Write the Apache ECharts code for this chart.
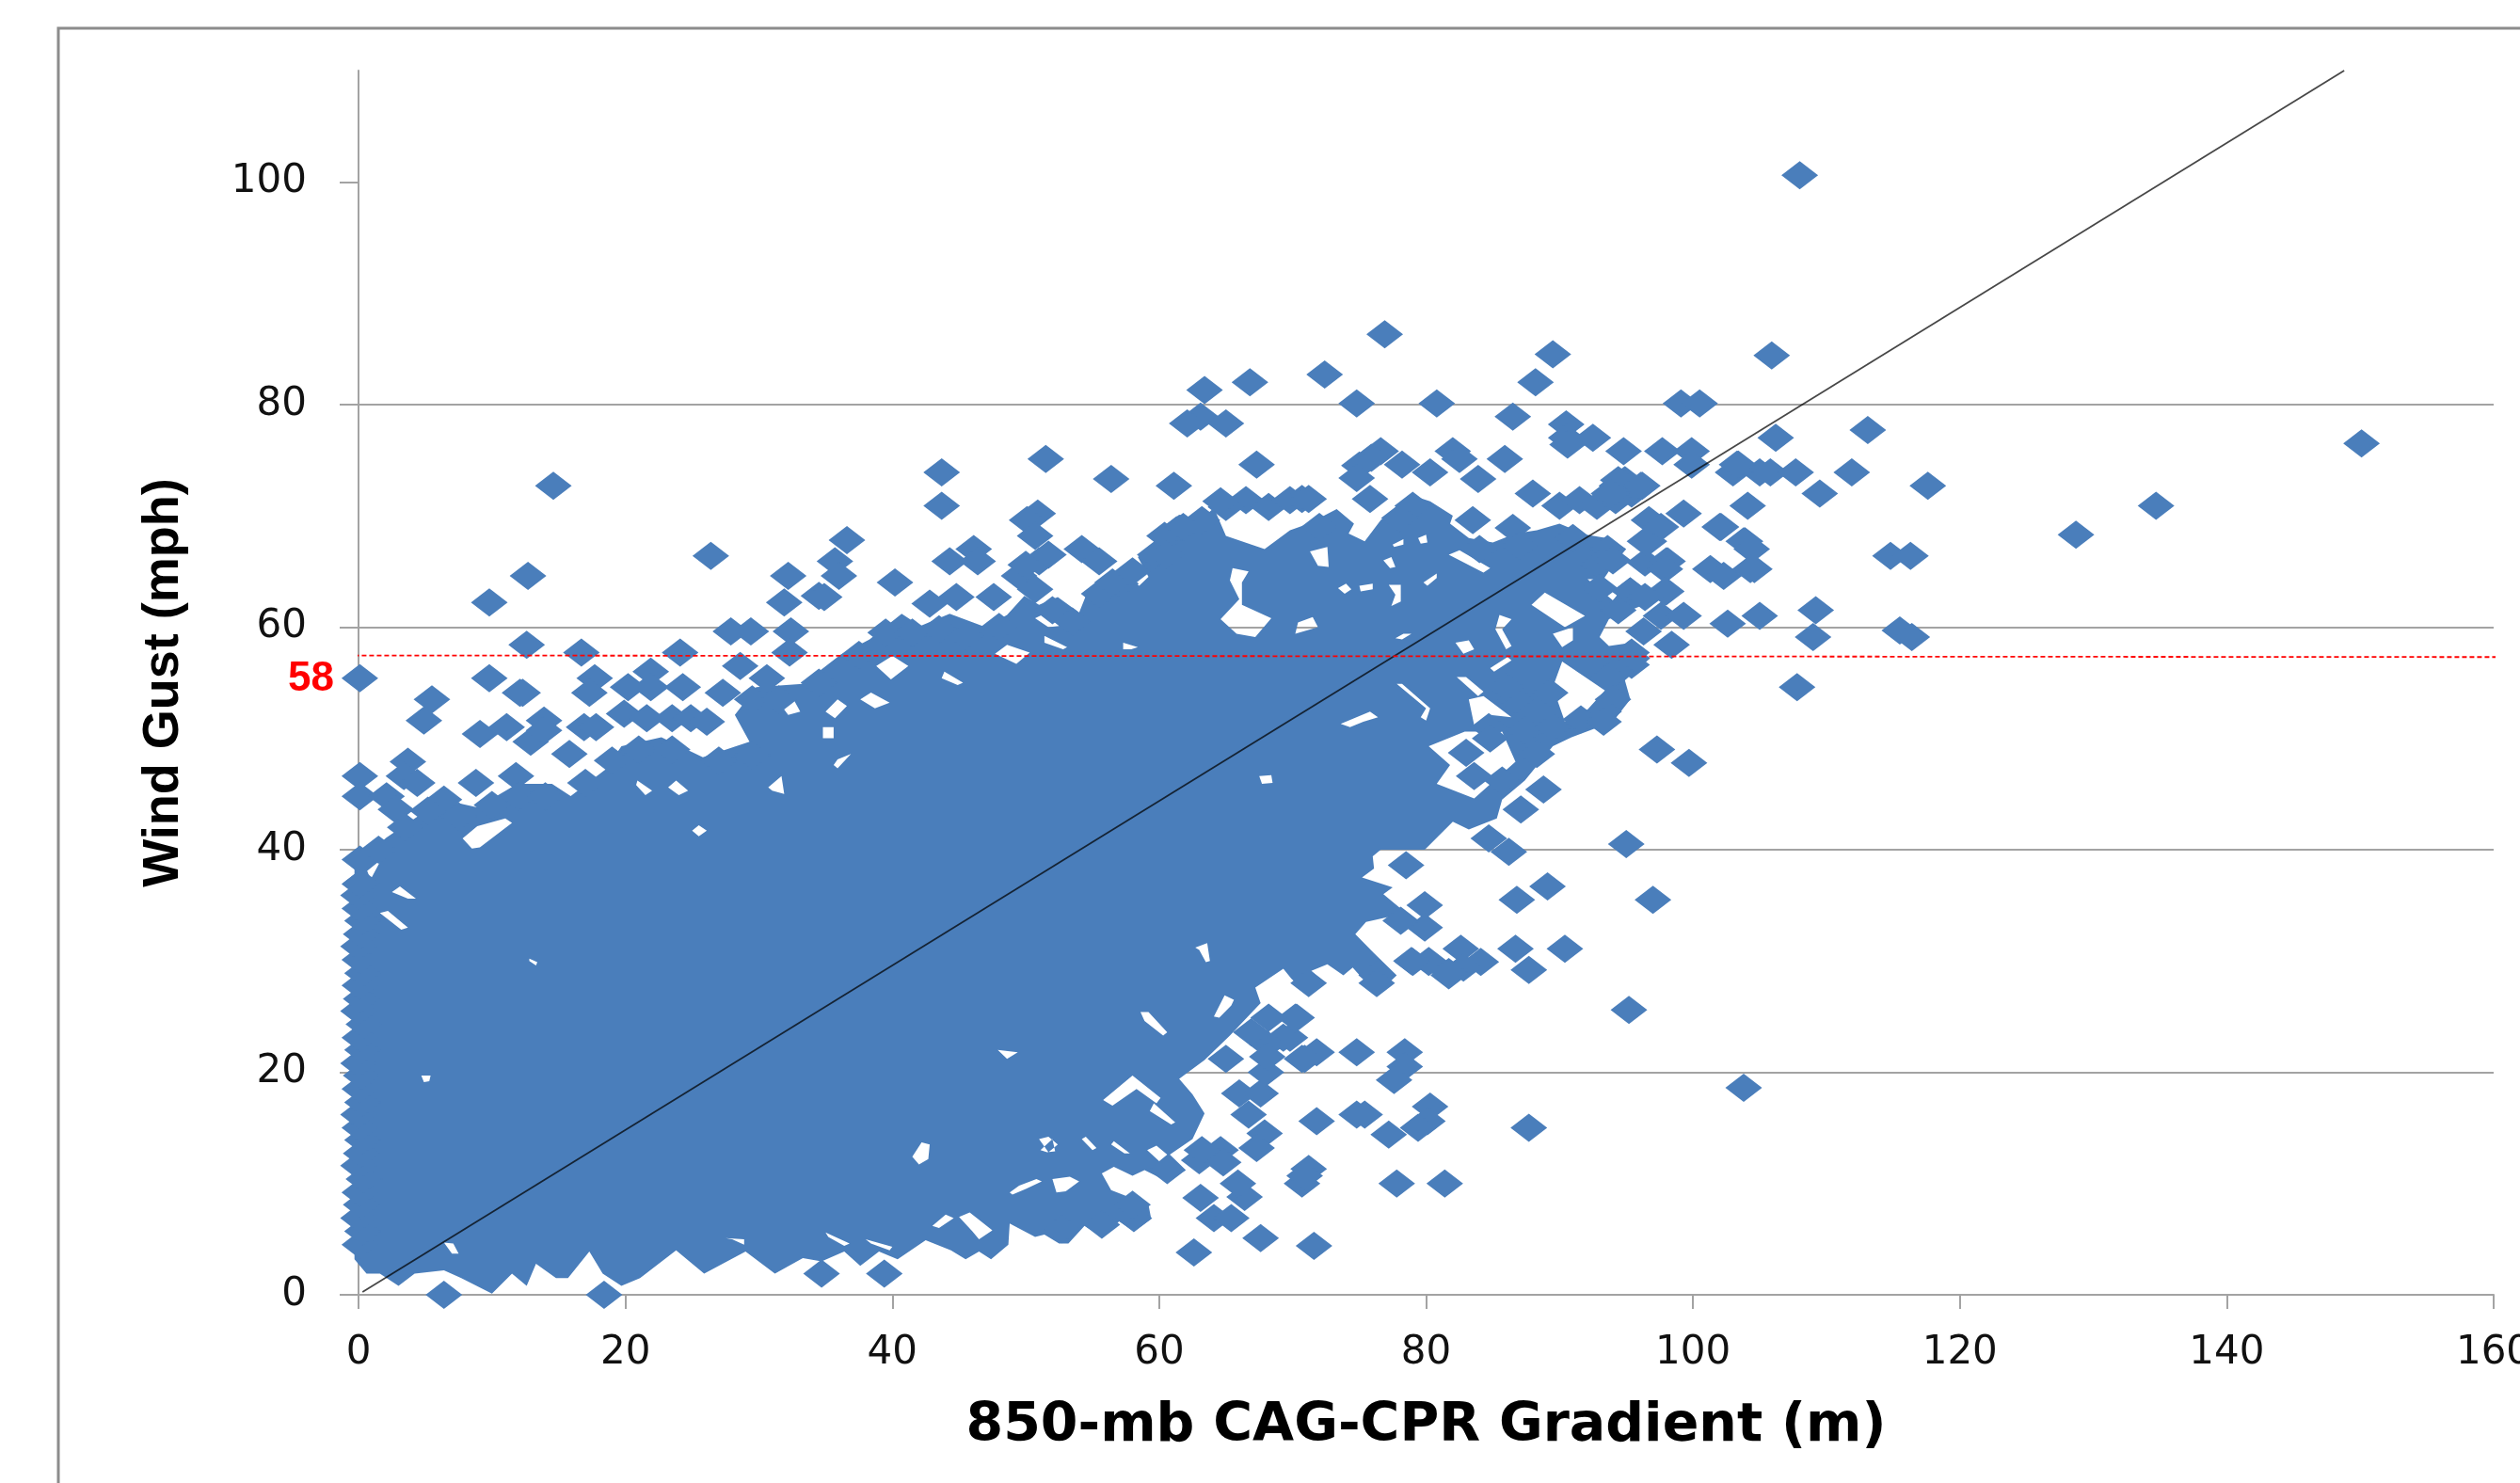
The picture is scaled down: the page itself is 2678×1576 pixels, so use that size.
<!DOCTYPE html>
<html>
<head>
<meta charset="utf-8">
<style>html,body{margin:0;padding:0;background:#fff;overflow:hidden}#c{width:2678px;height:1576px}</style>
<script src="https://cdn.jsdelivr.net/npm/echarts@6/dist/echarts.min.js"></script>
</head>
<body>
<div id="c"></div>
<script>
// NOTE: the core of the cloud is too overplotted to read single points from the picture, so it is
// drawn as an area: denseOutline is its traced boundary and denseGaps are the white gaps inside it.
// Only the separable markers around the edge are individual points.
const xTicks = [0, 20, 40, 60, 80, 100, 120, 140, 160];
const yTicks = [0, 20, 40, 60, 80, 100];
const xTitle = '850-mb CAG-CPR Gradient (m)';
const yTitle = 'Wind Gust (mph)';
const thresholdLabel = '58';
const trendLine = [[0.3, 0.25], [148.8, 110]];
const thresholdLine = [[-1.45, 57.45], [162.3, 57.3]];

const denseOutline = [
  [-0.3,38.6],[2.1,41.1],[6.3,44.5],[8.9,43.8],[11.9,45.9],[14.5,45.9],[15.9,44.8],[18.5,47.2],[19.7,49.3],[22.7,50.1],[25.8,48.3],[29.3,49.7],[28.2,52.1],[29.8,54.6],[33.3,54.9],
  [36.1,57.5],[38.3,58.9],[40.7,61.2],[42.1,60.1],[44.3,61.2],[47,60],[48.6,61.1],[49.9,62.8],[51,62],[52.4,62.7],[54,61.3],[54.7,63.4],[57,65.1],[58.5,63.7],[59.2,64.5],[58.4,66.3],[59.7,67.5],[60.6,67.2],[59.5,68.3],[61.5,70.1],[63.1,69.6],[64.1,70.7],[65,68.2],[67.9,67],[69.8,68.7],
  [71.2,69.3],[73.3,70.6],[74.6,69.3],[74.2,68.4],[75.4,67.7],[76.6,69.6],[77.8,70.8],[79,71.8],[80.3,71.3],[82,70],[81.8,69.3],[83.2,68],[85,67.6],[86.7,68.4],[88.3,68.7],[90,69.3],[92,68.3],[93.5,68],[95,67],[94.2,65.9],[93.3,64.3],[92.1,64.3],[94,62.4],[95,63.9],[96.3,62],[93.7,60.7],[93,59.1],[93.7,58.3],[95.4,58.6],[96.8,57.2],[94.9,55.2],[95.3,53.5],[94,51.5],[90.9,50.1],
  [89.5,49.3],[87.4,46.2],[85.7,44.5],[85.3,42.8],[83.2,41.8],[82,42.5],[79.9,40],[76.6,40],[76,39.4],[76.1,38.3],[75.2,37.5],[77.5,36.6],[76.8,36],[78.5,34.3],[75.5,33.5],[74.7,32.4],[76.1,30.7],[77.8,28.7],[76.3,27],[74.5,29.4],[73.8,28.7],[72.6,29.7],[71.4,29.1],[72.3,28.1],[71.2,26.9],[69.9,28.4],[69.3,29.3],[67.2,27.6],[67.6,26.2],
  [65.3,23.3],[63.4,21.1],[61.5,19.4],[62.5,18],[63.4,16.3],[62.5,14],[60.8,12.6],[62,11.2],[60.6,10.2],[58.9,11.2],[58,10.7],[56.6,11.5],[55.7,10.9],[56.4,9.4],[59.2,8.1],[59.4,6.8],[58.1,5.7],[57,6.6],[55.7,5.2],[54.4,6.2],[53.2,4.6],[52.5,4.6],[51.4,5.4],[50.7,5.2],
  [48.8,6.4],[48.7,4.5],[47.4,3.2],[46.5,3.9],[45.5,3.2],[44.4,4],[42.5,4.9],[40.4,3.2],[39,3.9],[37.6,2.6],[36.4,3.9],[34.7,3],[33.3,3.3],[31.2,1.9],[29,3.9],[25.9,1.9],[23.8,4],[21.1,1.5],[19.7,0.8],[18.3,1.9],[17.3,3.9],[15.7,1.5],[14.8,1.5],[13.3,2.8],[12.6,0.8],[11.5,1.9],[10,0.1],[7.7,1.5],[6.4,2.2],[4.2,1.9],[3,0.8],[1.6,1.9],[0.6,1.9],[-0.3,3.2]
];

const denseGaps = [
  [[80.2,49.3],[81.8,47.6],[80.8,45.9],[83.6,44.6],[86.7,47.9],[85.7,50.6],[82.9,50.6]],
  [[87.9,62],[88.9,63.1],[91.9,61],[90.4,60]],
  [[90.2,56.9],[93.4,54.3],[92.1,52.6],[90.4,51.5],[89.5,54.6]],
  [[83.2,53.5],[84.3,53.8],[86.4,51.9],[84.8,52.1],[83.6,51.2]],
  [[65.5,65.3],[66.7,65],[66.2,64],[66.2,62],[68.4,60.8],[67.2,59.1],[65.8,59.4],[64.6,60.7],[66,62.5],[65.3,64.2]],
  [[38.8,56.5],[40,57.4],[41.2,56.5],[39.9,55.3]],
  [[37.6,53.5],[38.4,54.1],[39.8,53.2],[38.7,52.7]],
  [[35,52.4],[35.9,53.5],[36.6,52.9],[35.7,51.8]],
  [[47.7,57.6],[48.6,58.4],[50.3,57.7],[49.3,56.7]],
  [[43.9,56],[45.3,55],[44.9,54.8],[43.7,55.4]],
  [[50.7,60.8],[51.4,61.2],[52.5,60.1],[51.7,60]],
  [[51.4,59.2],[53.1,58.2],[52.8,58],[51.4,58.6]],
  [[35.9,48.1],[36.9,48.6],[35.9,47.3],[35.6,47.6]],
  [[34.8,51],[35.6,51],[35.6,50],[34.8,50]],
  [[67.5,46.6],[68.4,46.7],[68.5,46],[67.7,45.9]],
  [[57.3,58.6],[58.4,58.2],[57.9,58],[57.3,58]],
  [[20.9,46.2],[22,45.3],[21.5,44.9],[20.8,45.8]],
  [[23.2,45.6],[23.8,46.2],[24.7,45.3],[24,44.9]],
  [[30.7,45.6],[31.7,46.6],[31.9,45],[31,45.3]],
  [[25,41.7],[25.5,42.2],[26.1,41.7],[25.5,41.2]],
  [[7.8,41],[8.9,42.1],[11,42.8],[11.5,42.4],[9.1,40.2],[8.5,40.1]],
  [[0.65,38.1],[1.7,39.1],[0.9,37.3]],
  [[2.5,36.2],[3.1,36.7],[4.3,35.6],[3.7,35.6]],
  [[1.6,34.3],[2.2,34.5],[3.7,33],[3.2,32.8]],
  [[31.7,52.9],[32.6,53.5],[33.1,52.4],[32.2,52.1]],
  [[71.3,66.8],[72.6,67.2],[72.7,65.4],[71.9,65.5]],
  [[73.4,63.5],[74,63.9],[74.4,63.4],[73.9,63]],
  [[75,63.7],[76,63.9],[76,63.4],[75.1,63.2]],
  [[77.2,63.8],[78.1,63.8],[78.1,62.3],[77.4,61.9],[77.7,62.9]],
  [[79.8,64],[80.8,64.8],[80.8,64.4],[80.1,63.7]],
  [[76.8,66],[77.4,66.3],[77.7,65.4],[77.3,65.3]],
  [[79.4,68],[80,68.3],[80.1,67.6],[79.6,67.5]],
  [[77.5,67.4],[78.3,67.9],[78.3,67.4],[77.6,67.2]],
  [[81.7,66.5],[82.5,66.9],[84.8,65.3],[84.3,64.9]],
  [[85.2,59.8],[85.5,61.1],[86.4,60.7],[85.7,59.8],[86.4,58.3],[86,58]],
  [[82.2,58.6],[83.2,58.8],[83.6,58],[82.8,57.6]],
  [[84.8,56.3],[86.1,57.3],[86.4,57],[85.1,56]],
  [[77.8,54.9],[78.2,54.9],[80.3,52.7],[80,51.6],[79.6,51.9],[80,52.7]],
  [[73.6,51.3],[75.8,52.4],[76.4,51.9],[75.3,51.5],[74.3,51]],
  [[82.3,55.5],[83,55.5],[84.3,54.2],[83.9,53.8]],
  [[89.5,59.4],[91,60],[91,58.8],[90.2,58.2]],
  [[70.4,60.4],[71.5,60.9],[71.9,60],[70.2,59.4]],
  [[77.7,59],[78.3,59.4],[78.9,59.4],[78.2,58.9]],
  [[58.6,25.4],[59.2,25.4],[60.6,23.6],[60.3,23.3],[58.9,24.6]],
  [[64.1,25],[64.9,26.9],[65.6,26.5],[65.4,26],[64.5,24.9]],
  [[62.7,31.2],[63.6,31.6],[63.8,30],[63.5,29.9],[63,31]],
  [[55.8,17.5],[58,19.7],[60.1,17.7],[59.8,17.2],[58.3,18.5],[56.5,17]],
  [[59.6,17.2],[61.2,15.5],[60.9,15.3],[59.3,16.5]],
  [[51,14],[51.7,14.2],[52.4,13.5],[51.7,12.8]],
  [[54.2,14],[55,13],[55.3,13.2],[54.5,14.2]],
  [[56.6,13.8],[57.8,12.7],[57.4,12.7],[56.4,13.5]],
  [[59.1,13],[59.8,13.4],[60.6,12.6],[60,12]],
  [[52,10.4],[53.3,10.6],[54,10.2],[53,9.3],[52.3,9.2]],
  [[43,6.2],[44,7.2],[44.6,6.9],[43.5,6]],
  [[45,7],[45.8,7.4],[47.5,5.8],[46.5,5],[46,5.7]],
  [[48.8,9.2],[49.5,9.8],[50.8,10.4],[51.2,10.2],[50,9.5],[49,9]],
  [[51.1,13],[52,14],[52.2,12.9],[51.6,12.8]],
  [[41.5,12.4],[42.2,13.7],[42.8,13.5],[42.7,12.2],[42,11.7]],
  [[47.9,22],[49.4,21.8],[48.6,21.2]],
  [[35,5.6],[36.8,4.6],[36.4,4.4],[35.2,5.2]],
  [[27.5,5.1],[28.9,5],[28.9,4.5],[28,5]],
  [[38,5],[40,4.3],[39.8,4],[38.4,4.6]],
  [[4.7,19.7],[5.4,19.7],[5.3,19.2],[4.9,19.1]],
  [[6.4,4.7],[7.1,4.6],[7.5,3.7],[7,3.7]],
  [[12.8,30.2],[13.4,29.9],[13.3,29.6],[12.8,30]]
];

const leftEdgePoints = [
  [0.1,4.5],[0.3,5.7],[0,6.9],[0.2,8.1],[0.1,9.2],[0.4,10.4],[0,11.6],[0.2,12.7],[0.3,13.9],[0.1,15],[0,16.2],[0.3,17.3],[0.1,18.5],[0.2,19.7],[0,20.8],[0.3,22],[0.1,23.1],[0.4,24.3],[0,25.5],[0.2,26.6],[0.1,27.8],[0.3,28.9],[0.1,30.1],[0,31.3],[0.2,32.4],[0.3,33.6],[0.1,34.7],[0,35.9],[0.2,37],[0.1,39.1],[0.1,36.9]
];
const bottomPoints = [[6.4,0],[18.4,0],[34.7,1.9],[39.4,1.9]];
const upperLeftFringe = [
  [14.6,72.7],[26.4,66.4],[12.7,64.6],[32.2,64.6],[9.8,62.2],[31.9,62.2],[34.5,62.8],[27.9,59.6],[29.4,59.6],[32.4,59.6],[12.6,58.4],[32.3,57.7],[16.7,57.7],[24.1,57.7],[28.6,56.5],[0.1,55.4],[9.8,55.4],[17.7,55.4],[21.9,56],[20.2,54.6],[21.9,54.6],[24.3,54.6],[30.6,55.4],[27.3,54.1],[12.1,54.1],[12.3,54.1],[17.3,54.1],[5.5,53.5],[4.9,51.6],[19.9,52.2],[13.9,51.6],[9.1,50.4],[11.1,51],[12.9,49.7],[13.9,50.7],[16.9,51],[17.8,51],[15.8,48.6],[3.7,47.9],[0.1,46.6],[3.4,46.6],[4.4,46],[8.8,46],[11.8,46.6],[0.1,44.8],[2.1,44.8],[2.8,43.6],[6.4,44.5],[21.6,51.8],[23.5,51.8],[24.9,51.8],[26.1,51.5]
];
const upperMidFringe = [
  [63.4,81.3],[66.8,82],[63.1,78.9],[62.1,78.3],[65,78.3],[51.5,75.1],[67.3,74.6],[43.7,73.9],[56.4,73.3],[61.1,72.7],[43.7,70.9],[50.9,70.2],[50.1,69.6],[50.7,68.2],[36.6,67.8],[66.5,71.4],[65,70.8],[68.2,70.8],[63.2,69.6],[61.3,68.7],[69.8,71.4],[46.1,67],[35.7,65.9],[44.3,65.9],[46.4,65.9],[36,64.6],[40.2,64],[34.9,62.7],[44.8,62.7],[47.6,62.7],[42.8,62.1],[54.2,67],[55.5,65.9],[51,65.9],[49.5,64.6],[50.7,63.4],[59.7,66.5],[57.1,63.9],[60.4,68.2],[61.8,69],[64.6,71.3],[50,65.6],[51.7,66.5]
];
const upperRightFringe = [
  [76.9,86.3],[72.4,82.7],[89.5,84.5],[88.2,82],[74.8,80.1],[80.8,80.1],[99.1,80.1],[100.5,80.1],[86.5,78.9],[90.5,78.2],[92.5,77],[90.5,77],[90.6,76.4],[94.8,75.8],[97.7,75.8],[99.9,75.8],[99.9,74.6],[82,75.8],[76.6,75.8],[75.9,75.2],[75,74.5],[74.8,73.4],[78.2,74.6],[80.3,73.9],[82.5,75.1],[85.9,75.1],[83.9,73.3],[103.4,74.6],[103,73.9],[105,73.9],[94.9,73.2],[96.2,72.7],[94.3,72.7],[88,72],[95.4,72],[93.7,72],[104.1,70.9],[75.8,71.5],[70.7,71.5],[71.2,71.5],[90,70.9],[91.5,71.4],[92.8,70.9],[94.2,71.4],[79,70.9],[96.7,69.6],[99.3,70.2],[102.1,69],[83.5,69.6],[86.5,68.9],[96.7,67.7],[103.9,67.7],[93.6,67],[98,65.9],[96.4,65.8],[101.3,65.2],[102.3,64.6],[104.6,65.2],[92.9,65.6],[98,63.2],[95.3,63.2],[97.6,61],[99.3,61],[102.6,60.3],[105,61],[96.3,59.6],[98.4,58.4],[95.4,57.7],
  [105.9,84.4],[113.1,77.7],[106.2,77],[103.3,74.6],[105.8,73.9],[107.7,73.9],[111.9,73.9],[109.5,72],[117.6,72.7],[97.6,69],[102,69],[96.4,67.7],[103.8,67.7],[104.4,67],[98.1,65.9],[97.9,65.2],[104.3,65.2],[114.8,66.4],[116.3,66.4],[95.3,63.2],[97.9,63.2],[96.4,62.7],[94.4,61.5],[109.2,61.5],[109,59.1],[115.5,59.7],[116.4,59.1],[95.4,56.6],[94.2,56],[93.7,55.5],[107.8,54.6],[94,53.5],[93.3,52.4],[94.4,73.2],[96.1,72.7],[93.9,72],[84.7,51],[87.4,50.7],[89.5,51],[91.6,51.7],[93.3,51.5],[86.7,53.5],[89.3,54.1],[86,54.6]
];
const rightFringe = [
  [97.3,49],[99.7,47.8],[88.3,48.6],[88.8,45.4],[87.1,43.6],[85.7,46.2],[83.6,46.6],[83,48.7],[84.8,50],[84.7,41],[86.2,39.8],[95,40.5],[78.5,38.6],[86.8,35.5],[89.1,36.7],[97,35.5],[79.9,35],[79.9,33],[78.1,33.6],[82.6,31.1],[86.7,31.1],[90.4,31.1],[87.7,29.2],[84.1,29.9],[81.7,28.7],[82.8,29.4],[79,29.9],[80.2,29.9],[71.2,28],[76.3,28.7],[76.3,28],[95.2,25.6],[70.2,24.9],[69.8,23.1],[71.8,21.8],[70.7,21.2],[74.8,21.8],[78.4,21.8],[78.4,20.5],[77.6,19.3],[103.8,18.6],[80.3,16.9],[71.8,15.6],[74.8,16.2],[75.4,16.2],[77.2,14.4],[80.1,15.6],[79.4,15],[87.7,15],[71.2,11.3],[70.7,10],[70.9,10.7],[77.8,10],[81.4,10]
];
const lowerRightFringe = [
  [70.9,21.2],[70.3,24.9],[69.3,23.1],[68.2,24.9],[67.6,5.1],[71.6,4.4],[62.6,3.8],[63.1,8.7],[64.1,6.9],[65.4,6.9],[66.4,8.8],[65.9,10],[67.9,14.5],[67.3,13.2],[66.7,16.2],[66,18.1],[67.6,18.1],[68,20],[65,21.2],[63,12.1],[64.6,13],[64.8,11.9],[63.2,13],[60.6,11.2],[58.1,6.9],[55.7,6.3],[58,8.1],[52.7,5.9],[68.1,22.5],[66.9,23.6],[68.1,21.4],[80.2,30],[78.9,30],[81.7,29]
];
const edgeTeethPoints = [
  [1.5,40],[3.5,42],[5.2,43.5],[7.5,43],[10,44],[12,44.8],[14,44.8],[17,46],[19,48],[21,49],[23.5,49],[27,48],[29.5,48.5],[29.5,53.5],[31.5,53.5],[34.5,55],[37.5,57.5],[39.5,59.5],[41.5,59.5],[43.5,59.8],[45.5,59.2],[48,60],[52,61.5],[53.5,60.5],[55.5,63],[56.5,64],[58,65],[60.5,66.5],[72,69],[78,69.8],[84,67],[87,67.3],[91,68],[94,66],[93,63.5]
];
const outlierPoints = [[108,100.6],[150.1,76.5],[134.7,70.9],[128.7,68.3]];

const fringePoints = [].concat(leftEdgePoints, bottomPoints, upperLeftFringe, upperMidFringe, upperRightFringe, rightFringe, lowerRightFringe, edgeTeethPoints, outlierPoints);

function signedArea(p) {
  let a = 0;
  for (let i = 0; i < p.length; i++) {
    const q = p[(i + 1) % p.length];
    a += p[i][0] * q[1] - q[0] * p[i][1];
  }
  return a;
}
function ringPath(p) {
  return 'M' + p.map(function (v) { return v[0].toFixed(1) + ' ' + v[1].toFixed(1); }).join('L') + 'Z';
}
function renderDense(params, api) {
  const outer = denseOutline.map(function (v) { return api.coord(v); });
  const sign = signedArea(outer) > 0;
  let d = ringPath(outer);
  denseGaps.forEach(function (g) {
    const ring = g.map(function (v) { return api.coord(v); });
    if ((signedArea(ring) > 0) === sign) ring.reverse();
    d += ringPath(ring);
  });
  return { type: 'path', shape: { pathData: d }, style: { fill: '#4a7ebb' } };
}

const chart = echarts.init(document.getElementById('c'), null, { renderer: 'canvas' });
const axisGrey = '#a3a3a3';
chart.setOption({
  animation: false,
  backgroundColor: '#ffffff',
  graphic: [
    { type: 'rect', z: 0, shape: { x: 62, y: 30, width: 2700, height: 1700 }, style: { fill: 'none', stroke: '#8c8c8c', lineWidth: 3 } },
    { type: 'text', z: 100, left: 306, top: 700, style: { text: thresholdLabel, fill: '#ff0000', font: 'bold 44px "Liberation Sans"' } }
  ],
  grid: { left: 381, right: 28, top: 75, bottom: 200, containLabel: false, outerBoundsMode: 'none' },
  xAxis: {
    type: 'value', min: 0, max: 160, interval: 20,
    name: xTitle, nameLocation: 'middle', nameGap: 112,
    nameTextStyle: { fontFamily: 'DejaVu Sans', fontWeight: 'bold', fontSize: 57, color: '#000' },
    axisLine: { show: true, onZero: false, lineStyle: { color: axisGrey, width: 2 } },
    axisTick: { show: true, length: 15, lineStyle: { color: axisGrey, width: 2 } },
    axisLabel: { margin: 41, fontFamily: 'DejaVu Sans', fontSize: 42, color: '#111', customValues: xTicks, hideOverlap: false },
    splitLine: { show: false }
  },
  yAxis: {
    type: 'value', min: 0, max: 110, interval: 20,
    name: yTitle, nameLocation: 'middle', nameGap: 180, nameRotate: 90,
    nameTextStyle: { fontFamily: 'Liberation Sans', fontWeight: 'bold', fontSize: 54, color: '#000' },
    axisLine: { show: true, onZero: false, lineStyle: { color: axisGrey, width: 2 } },
    axisTick: { show: true, length: 20, lineStyle: { color: axisGrey, width: 2 }, customValues: yTicks },
    axisLabel: { margin: 55, fontFamily: 'DejaVu Sans', fontSize: 42, color: '#111', customValues: yTicks },
    splitLine: { show: true, showMaxLine: false, lineStyle: { color: axisGrey, width: 2 } }
  },
  series: [
    { type: 'custom', z: 2, silent: true, clip: false, coordinateSystem: 'cartesian2d', renderItem: renderDense, data: [[0, 0]] },
    { type: 'scatter', z: 3, silent: true, clip: false, symbol: 'diamond', symbolSize: [39, 30], itemStyle: { color: '#4a7ebb', borderWidth: 0, opacity: 1 }, data: fringePoints },
    { type: 'line', z: 4, silent: true, showSymbol: false, symbol: 'none', clip: false, lineStyle: { color: 'rgba(0,0,0,0.72)', width: 1.8 }, data: trendLine },
    { type: 'line', z: 5, silent: true, showSymbol: false, symbol: 'none', clip: false, lineStyle: { color: '#ff0000', width: 1.8, type: [5, 3] }, data: thresholdLine }
  ]
});
</script>
</body>
</html>
